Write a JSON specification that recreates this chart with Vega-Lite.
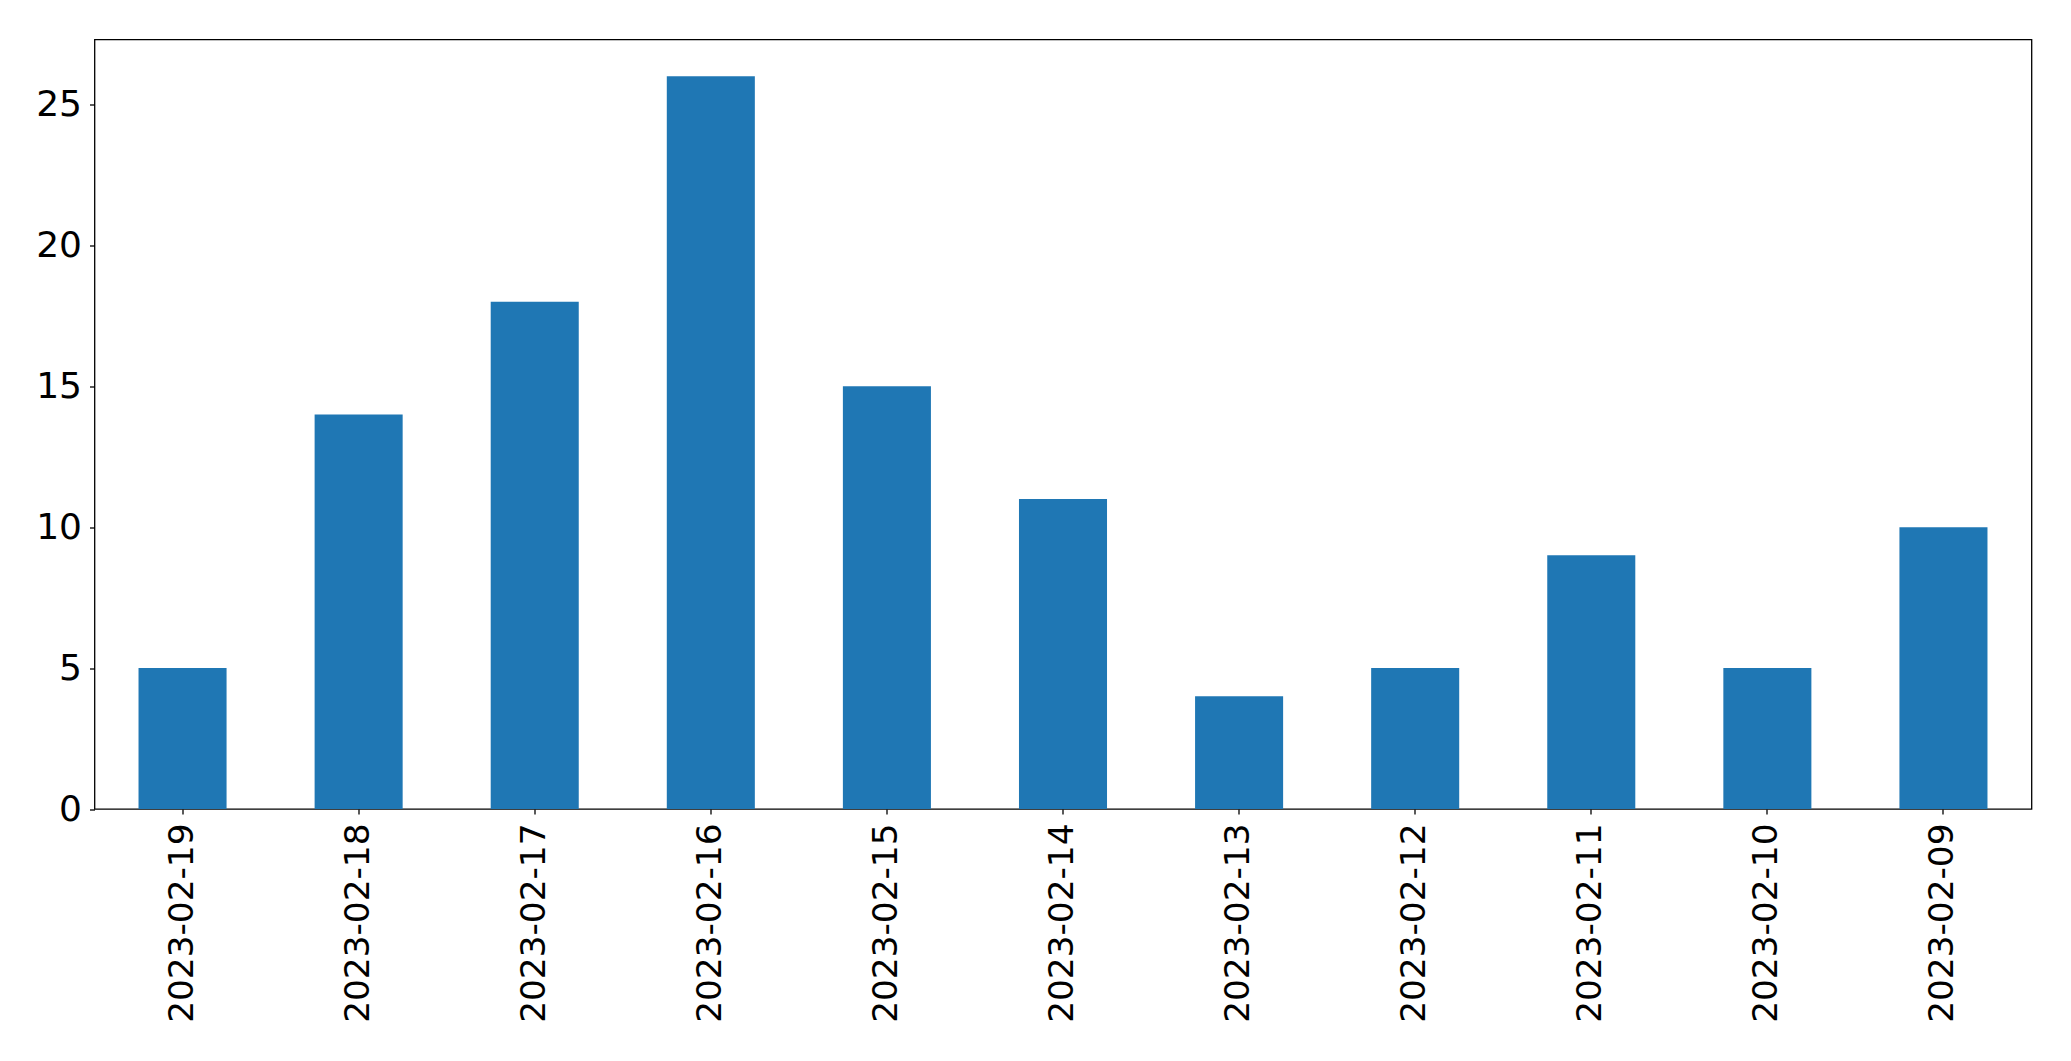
{
  "$schema": "https://vega.github.io/schema/vega-lite/v6.json",
  "autosize": {"type": "none"},
  "padding": {"left": 94.5, "top": 39.5, "right": 40, "bottom": 252},
  "width": 1937,
  "height": 769.5,
  "background": "white",
  "data": {"values": [
    {"date": "2023-02-19", "count": 5},
    {"date": "2023-02-18", "count": 14},
    {"date": "2023-02-17", "count": 18},
    {"date": "2023-02-16", "count": 26},
    {"date": "2023-02-15", "count": 15},
    {"date": "2023-02-14", "count": 11},
    {"date": "2023-02-13", "count": 4},
    {"date": "2023-02-12", "count": 5},
    {"date": "2023-02-11", "count": 9},
    {"date": "2023-02-10", "count": 5},
    {"date": "2023-02-09", "count": 10}
  ]},
  "mark": {"type": "bar", "color": "#1f77b4"},
  "encoding": {
    "x": {
      "field": "date", "type": "nominal", "sort": null,
      "scale": {"paddingInner": 0.5, "paddingOuter": 0.25},
      "axis": {
        "title": null, "labelAngle": 270, "labelAlign": "right", "labelBaseline": "middle",
        "labelFont": "DejaVu Sans", "labelFontSize": 34.3, "labelColor": "black", "labelLimit": 0,
        "labelPadding": 9, "tickSize": 5, "tickWidth": 1.3, "tickColor": "black",
        "domain": false, "grid": false
      }
    },
    "y": {
      "field": "count", "type": "quantitative",
      "scale": {"domain": [0, 27.3], "nice": false, "zero": true},
      "axis": {
        "title": null, "values": [0, 5, 10, 15, 20, 25],
        "labelFont": "DejaVu Sans", "labelFontSize": 36, "labelColor": "black",
        "labelPadding": 8, "tickSize": 5, "tickWidth": 1.3, "tickColor": "black",
        "domain": false, "grid": false
      }
    }
  },
  "config": {
    "view": {"stroke": "black", "strokeWidth": 1.3}
  }
}
